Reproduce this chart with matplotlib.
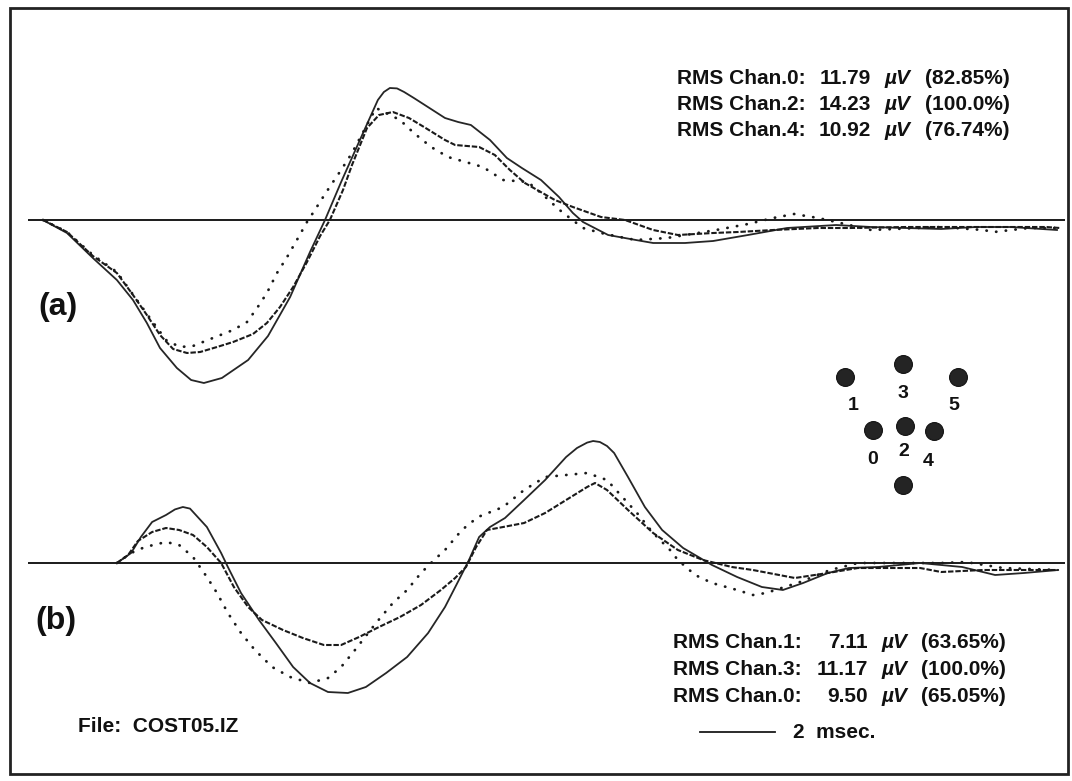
import matplotlib
matplotlib.use('Agg')
import matplotlib.pyplot as plt
from matplotlib.patches import Rectangle

plt.rcParams['font.family'] = ['Liberation Sans', 'DejaVu Sans']

####################################################
# averaged responses, time in ms from sweep start, amplitude in uV
# (a) chan 2 solid, chan 0 dashed, chan 4 dotted
a2_t = [0.40, 1.04, 1.73, 2.37, 2.80, 3.17, 3.52, 3.97, 4.35, 4.69, 5.17, 5.87, 6.40, 6.99, 7.52, 7.92,
        8.35, 8.91, 9.33, 9.49, 9.65, 9.84, 10.03, 10.29, 11.12, 11.47, 11.81, 12.32, 12.77, 13.17,
        13.68, 14.16, 14.53, 14.80, 15.47, 16.21, 16.67, 17.52, 18.27, 19.20, 20.24, 21.55, 22.48,
        23.41, 24.35, 25.28, 26.21, 27.44]
a2_v = [0, -3.25, -9.5, -15, -20, -25.75, -32, -37, -40, -40.75, -39.5, -35, -29, -19.25, -8, 0,
        9.5, 21.25, 30, 32, 33, 32.9, 32, 30.5, 25.5, 24.5, 23.75, 20, 15.5, 13,
        10, 5.75, 1.75, -0.5, -3.75, -5, -5.75, -5.75, -5.25, -3.75, -2, -1.25, -1.75,
        -2, -2.25, -1.75, -1.75, -2.5]

a0_t = [0.40, 1.04, 1.73, 2.37, 2.80, 3.17, 3.52, 3.87, 4.24, 4.59, 5.04, 5.47, 6.00, 6.37, 6.72, 7.07,
        7.44, 7.79, 8.05, 8.40, 8.64, 9.04, 9.36, 9.73, 10.16, 10.56, 11.12, 11.39, 12.03, 12.45,
        12.85, 13.25, 14.05, 14.53, 15.28, 15.92, 16.67, 17.33, 18.27, 18.93, 19.87, 21.07, 21.92,
        23.41, 25.28, 27.15, 27.52]
a0_v = [0, -3, -9, -13.25, -18.75, -23.75, -28.75, -32.25, -33.25, -33, -31.75, -30.5, -28.5, -25.75,
        -21.75, -16.75, -10.5, -4, 0, 7.5, 13.75, 23, 26.25, 27, 25.5, 23.25, 20, 18.75, 18.25, 16.25,
        12.5, 9.25, 5, 3.25, 0.75, 0, -2.5, -3.75, -3.25, -3, -2.5, -2, -2,
        -1.75, -1.75, -1.75, -2]

a4_t = [0.40, 1.04, 1.73, 2.37, 2.75, 3.25, 3.68, 4.05, 4.40, 4.93, 5.47, 5.84, 6.11, 6.37, 6.64, 6.91,
        7.17, 7.44, 7.65, 7.87, 8.08, 8.35, 8.64, 9.01, 9.28, 9.55, 9.92, 10.29, 10.75, 11.20, 11.76,
        12.13, 12.67, 13.33, 13.68, 13.97, 14.24, 14.80, 15.28, 15.92, 16.21, 17.04, 18.35, 19.20,
        19.87, 20.43, 21.07, 21.55, 22.48, 24.35, 25.47, 25.76, 26.69, 27.52]
a4_v = [0, -3, -8.75, -13, -18, -24.5, -30, -31.75, -31.5, -29.5, -27.5, -25.5, -22, -18.25, -13.25, -9.25,
        -5, -0.5, 2.5, 5.75, 8.75, 12.5, 16.75, 23.25, 28, 26.75, 25, 21.75, 18.25, 15.75, 14.25,
        13.25, 10, 9.5, 6.75, 4.25, 2, -2, -3.25, -4.5, -5, -4.5, -2.5, -1,
        0.5, 1.5, 0.5, -0.5, -2.5, -1.75, -2.5, -3, -2, -2]

# (b) chan 3 solid, chan 1 dashed, chan 0 dotted
b3_t = [2.37, 2.75, 3.01, 3.31, 3.68, 3.92, 4.13, 4.32, 4.77, 5.15, 5.33, 5.68, 6.16, 6.61, 7.07, 7.52,
        8.00, 8.53, 9.01, 9.55, 10.11, 10.67, 11.12, 11.49, 11.76, 12.03, 12.32, 12.72, 13.23, 13.79,
        14.35, 14.64, 14.91, 15.07, 15.25, 15.44, 15.63, 16.00, 16.45, 16.91, 17.47, 18.24, 18.91,
        19.57, 20.13, 20.67, 21.33, 21.89, 22.67, 23.79, 24.91, 25.79, 26.56, 27.47]
b3_v = [0, 2.5, 6.5, 10.25, 12, 13.4, 14, 13.6, 9, 2.5, -1, -7.5, -14.25, -20, -26, -30,
        -32.25, -32.5, -31, -27.5, -23.5, -17.5, -11, -4.25, 0.75, 6.5, 9, 11.25, 15.75, 20.75,
        26.5, 28.75, 30.1, 30.5, 30.25, 29.25, 27.5, 21.5, 14, 8.25, 3.75, -0.5, -3.5,
        -6, -6.75, -5, -2.5, -1.25, -1, 0, -1, -3, -2.5, -1.75]

b1_t = [2.37, 2.67, 2.93, 3.31, 3.68, 4.03, 4.40, 4.77, 5.15, 5.49, 5.87, 6.24, 6.80, 7.33, 7.89, 8.35,
        8.83, 9.36, 9.92, 10.48, 11.01, 11.39, 11.68, 11.95, 12.24, 12.67, 13.23, 13.79, 14.35, 14.91,
        15.12, 15.44, 16.00, 16.67, 17.33, 18.00, 18.77, 19.33, 20.45, 21.33, 22.13, 23.79, 24.35,
        25.47, 27.47]
b1_v = [0, 2, 5.5, 7.75, 8.75, 8.25, 7, 4, 0, -6, -11, -14.25, -16.75, -18.75, -20.5, -20.5,
        -18.5, -16, -13.5, -10.5, -6.75, -3.75, -1, 4, 8.25, 9, 10, 12.5, 15.75, 19,
        20, 18.25, 13.25, 7.5, 3.25, 0.75, -1, -1.75, -3.75, -2.5, -1.25, -1.25, -2.25,
        -1.75, -1.75]

b0_t = [2.37, 2.75, 3.12, 3.68, 4.03, 4.40, 4.77, 5.04, 5.33, 5.68, 6.05, 6.51, 6.99, 7.52, 8.00, 8.35,
        8.72, 9.28, 9.73, 10.11, 10.48, 10.83, 11.12, 11.57, 12.00, 12.67, 13.23, 13.79, 14.35, 14.91,
        15.44, 15.68, 16.24, 16.67, 17.12, 17.33, 17.79, 18.24, 18.91, 19.33, 19.68, 20.59, 21.39,
        22.13, 22.67, 24.35, 25.01, 26.00, 27.47]
b0_v = [0, 2.5, 4, 5.25, 4.5, 1.5, -3.5, -7.5, -12.5, -17.5, -21.75, -26, -28.5, -30, -28.75, -26,
        -21.75, -15, -10, -6.75, -2.5, 0.75, 3.25, 8.25, 11.5, 14, 18.25, 21.5, 22, 22.5,
        20.75, 18.25, 12.5, 7.5, 3.25, 0.75, -3, -5, -6.75, -8, -7.5, -4.75, -1.75,
        0, 0, 0, 0.25, -1.25, -1.75]

sweep_ms = [0.0, 27.65]

# RMS table for each panel
rms_a_chan = [0, 2, 4]
rms_a_uv = [11.79, 14.23, 10.92]
rms_a_pct = [82.85, 100.0, 76.74]
rms_b_chan = [1, 3, 0]
rms_b_uv = [7.11, 11.17, 9.50]
rms_b_pct = [63.65, 100.0, 65.05]

scale_ms = 2
file_name = 'COST05.IZ'

# electrode montage (offsets from chan 2, display px) and label offsets
elec_names = ['3', '1', '5', '0', '2', '4', '']
elec_dx = [-2, -60, 53, -32, 0, 29, -2]
elec_dy = [-62, -49, -49, 4, 0, 5, 59]
lab_dx = [-2, -52, 49, -32, -1, 23, 0]
lab_dy = [-32, -21, -21, 34, 26, 36, 0]

####################################################
W, H = 1072, 781
px_per_ms = 37.5
px_per_uv = 4.0
t0_px = 28
base_a, base_b = 220, 563

fig = plt.figure(figsize=(W / 100, H / 100), dpi=100)


def trace_axes(base_px):
    ax = fig.add_axes([0, 0, 1, 1])
    ax.set_xlim(-t0_px / px_per_ms, (W - t0_px) / px_per_ms)
    ax.set_ylim((base_px - H) / px_per_uv, base_px / px_per_uv)
    ax.axis('off')
    return ax


def fx(x):
    return x / W


def fy(y):
    return 1 - y / H


solid = dict(color='#262626', lw=1.3, ls='-')
dashed = dict(color='#1a1a1a', lw=1.5, ls=(0, (2.6, 0.9)))
dotted = dict(color='#1a1a1a', lw=2.0, ls=(0, (0.1, 3.4)), dash_capstyle='round')

ax1 = trace_axes(base_a)
ax1.hlines(0, sweep_ms[0], sweep_ms[1], color='#1a1a1a', lw=1.4)
ax1.plot(a2_t, a2_v, **solid)
ax1.plot(a0_t, a0_v, **dashed)
ax1.plot(a4_t, a4_v, **dotted)

ax2 = trace_axes(base_b)
ax2.hlines(0, sweep_ms[0], sweep_ms[1], color='#1a1a1a', lw=1.4)
ax2.plot(b3_t, b3_v, **solid)
ax2.plot(b1_t, b1_v, **dashed)
ax2.plot(b0_t, b0_v, **dotted)

# time scale bar
sb_t = (700 - t0_px) / px_per_ms
sb_v = (base_b - 732) / px_per_uv
ax2.plot([sb_t, sb_t + scale_ms], [sb_v, sb_v], color='#1a1a1a', lw=1.3)
fig.text(fx(793), fy(732), '%d  msec.' % scale_ms, fontsize=15, fontweight='bold',
         ha='left', va='center', color='#111')

# electrode diagram in display px
axe = fig.add_axes([0, 0, 1, 1])
axe.set_xlim(0, W)
axe.set_ylim(H, 0)
axe.axis('off')
cx, cy = 905, 426
axe.scatter([cx + d for d in elec_dx], [cy + d for d in elec_dy], s=165,
            facecolor='#242424', edgecolor='#111', lw=0.8, zorder=3)
for n, dx, dy, lx, ly in zip(elec_names, elec_dx, elec_dy, lab_dx, lab_dy):
    if n:
        axe.text(cx + lx, cy + ly, n, fontsize=14, fontweight='bold', ha='center',
                 va='center', color='#111')


# RMS tables
def rms_block(chans, uvs, pcts, x0, xnum, xmu, xpct, y0, dy=26.5):
    for i, (c, u, p) in enumerate(zip(chans, uvs, pcts)):
        y = fy(y0 + i * dy)
        kw = dict(fontsize=15, fontweight='bold', va='center', color='#111')
        fig.text(fx(x0), y, 'RMS Chan.%d:' % c, ha='left', **kw)
        fig.text(fx(xnum), y, '%.2f' % u, ha='right', **kw)
        fig.text(fx(xmu), y, 'µV', ha='left', style='italic', **kw)
        fig.text(fx(xpct), y, '(%s%%)' % format(p, '#.4g'), ha='left', **kw)


rms_block(rms_a_chan, rms_a_uv, rms_a_pct, 677, 871, 884, 925, 78)
rms_block(rms_b_chan, rms_b_uv, rms_b_pct, 673, 868, 881, 921, 643)

fig.text(fx(38), fy(307), '(a)', fontsize=23, fontweight='bold', ha='left', va='center', color='#111')
fig.text(fx(35), fy(621), '(b)', fontsize=23, fontweight='bold', ha='left', va='center', color='#111')
fig.text(fx(78), fy(726), 'File:  ' + file_name, fontsize=15, fontweight='bold',
         ha='left', va='center', color='#111')

# outer frame
fig.patches.append(Rectangle((fx(10), fy(774)), fx(1068 - 10), (774 - 8) / H,
                             transform=fig.transFigure, fill=False, lw=2.0, ec='#222'))

plt.savefig('out.png', dpi=100)
